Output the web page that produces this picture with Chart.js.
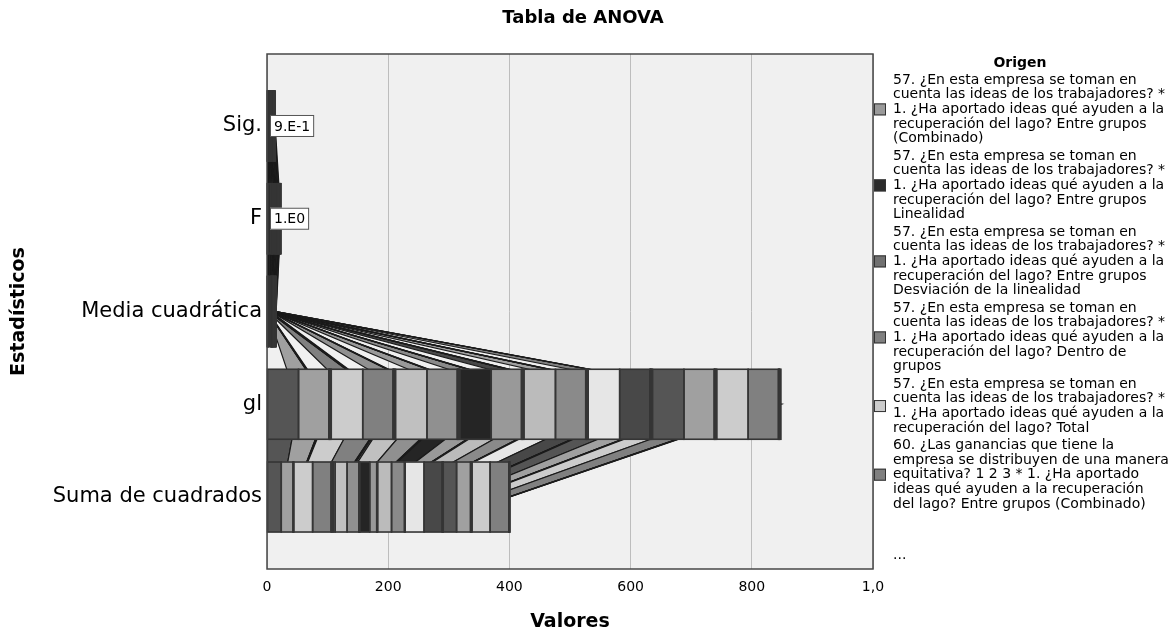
<!DOCTYPE html>
<html>
<head>
<meta charset="utf-8">
<script src="https://cdn.jsdelivr.net/npm/chart.js@4"></script>
<style>
  html, body { margin: 0; padding: 0; background: #fff; }
</style>
</head>
<body>
<canvas id="chart" width="1174" height="637"></canvas>
<script>
// statistics shown on the vertical axis (top to bottom)
const categories = ['Sig.', 'F', 'Media cuadrática', 'gl', 'Suma de cuadrados'];
const barLabels = ['9.E-1', '1.E0', '', '', ''];
const xTickValues = [0, 200, 400, 600, 800, 1000];
const xTickLabels = ['0', '200', '400', '600', '800', '1,0'];

// one entry per "Origen" row, in legend order:
// for each of 8 crossings: Combinado, Linealidad, Desviación, Dentro de grupos, Total
const sigValues = [
  0.92, 0.78, 0.85, null, null,
  0.41, 0.63, 0.27, null, null,
  0.55, 0.88, 0.32, null, null,
  0.71, 0.49, 0.66, null, null,
  0.38, 0.95, 0.21, null, null,
  0.84, 0.57, 0.73, null, null,
  0.12, 0.06, 0.44, null, null,
  0.67, 0.52, 0.59, null, null
];
const fValues = [
  1.02, 0.08, 1.49, null, null,
  1.53, 0.23, 1.35, null, null,
  0.62, 0.02, 1.14, null, null,
  0.47, 0.48, 1.46, null, null,
  1.06, 0.00, 2.27, null, null,
  1.12, 0.33, 0.31, null, null,
  2.21, 3.68, 0.60, null, null,
  0.59, 0.42, 0.68, null, null
];
const mediaCuadratica = [
  0.45, 0.04, 0.66, 0.44, null,
  0.62, 0.15, 0.90, 0.66, null,
  0.38, 0.01, 0.70, 0.61, null,
  0.21, 0.22, 0.21, 0.45, null,
  0.33, 0.00, 0.50, 0.31, null,
  0.17, 0.20, 0.19, 0.61, null,
  1.33, 2.21, 0.36, 0.60, null,
  0.35, 0.25, 0.40, 0.59, null
];
const glValues = [
  2, 1, 1, 50, 52,
  2, 1, 1, 50, 52,
  2, 1, 1, 50, 52,
  2, 1, 1, 50, 52,
  2, 1, 1, 50, 52,
  2, 1, 1, 50, 52,
  2, 1, 1, 50, 52,
  2, 1, 1, 50, 52
];
const sumaCuadrados = [
  0.9, 0.3, 0.6, 31.0, 29.9,
  1.2, 0.5, 0.7, 23.1, 22.0,
  0.8, 0.3, 0.5, 30.0, 31.4,
  0.4, 0.2, 0.2, 21.5, 23.0,
  0.7, 0.2, 0.5, 11.6, 16.5,
  0.5, 0.2, 0.3, 19.8, 19.8,
  3.3, 2.2, 1.1, 30.5, 31.4,
  0.3, 0.1, 0.2, 19.8, 23.5
];

const grays = [
  '#9a9a9a', '#2b2b2b', '#707070', '#808080', '#cccccc',
  '#7f7f7f', '#c8c8c8', '#5a5a5a', '#a0a0a0', '#555555',
  '#b4b4b4', '#3c3c3c', '#d8d8d8', '#484848', '#e6e6e6',
  '#6e6e6e', '#a8a8a8', '#333333', '#8a8a8a', '#bbbbbb',
  '#dcdcdc', '#4e4e4e', '#b0b0b0', '#999999', '#252525',
  '#787878', '#e0e0e0', '#404040', '#909090', '#c0c0c0'
];

const legendLabels = [
  ['57. ¿En esta empresa se toman en', 'cuenta las ideas de los trabajadores? *', '1. ¿Ha aportado ideas qué ayuden a la', 'recuperación del lago? Entre grupos', '(Combinado)'],
  ['57. ¿En esta empresa se toman en', 'cuenta las ideas de los trabajadores? *', '1. ¿Ha aportado ideas qué ayuden a la', 'recuperación del lago? Entre grupos', 'Linealidad'],
  ['57. ¿En esta empresa se toman en', 'cuenta las ideas de los trabajadores? *', '1. ¿Ha aportado ideas qué ayuden a la', 'recuperación del lago? Entre grupos', 'Desviación de la linealidad'],
  ['57. ¿En esta empresa se toman en', 'cuenta las ideas de los trabajadores? *', '1. ¿Ha aportado ideas qué ayuden a la', 'recuperación del lago? Dentro de', 'grupos'],
  ['57. ¿En esta empresa se toman en', 'cuenta las ideas de los trabajadores? *', '1. ¿Ha aportado ideas qué ayuden a la', 'recuperación del lago? Total'],
  ['60. ¿Las ganancias que tiene la', 'empresa se distribuyen de una manera', 'equitativa? 1 2 3 * 1. ¿Ha aportado', 'ideas qué ayuden a la recuperación', 'del lago? Entre grupos (Combinado)']
];

const FONT = '"DejaVu Sans", "Noto Sans", sans-serif';

// SPSS stacks the first legend entry on the far right, so build in reverse
const datasets = [];
for (let i = glValues.length - 1; i >= 0; i--) {
  datasets.push({
    label: 'Origen ' + (i + 1),
    data: [sigValues[i], fValues[i], mediaCuadratica[i], glValues[i], sumaCuadrados[i]],
    backgroundColor: grays[i % grays.length],
    borderWidth: 0,
    barThickness: 70,
    stack: 'origen'
  });
}

function visibleBars(chart, cb) {
  chart.data.datasets.forEach((ds, d) => {
    const meta = chart.getDatasetMeta(d);
    meta.data.forEach((el, c) => {
      if (ds.data[c] == null) return;
      cb(ds, el, c, meta);
    });
  });
}

// filled bands joining each segment to the same segment of the next bar
const connectors = {
  id: 'connectors',
  beforeDatasetsDraw(chart) {
    const ctx = chart.ctx;
    const area = chart.chartArea;
    ctx.save();
    ctx.beginPath();
    ctx.rect(area.left, area.top, area.width, area.height);
    ctx.clip();
    chart.data.datasets.forEach((ds, d) => {
      const meta = chart.getDatasetMeta(d);
      for (let c = 0; c < categories.length - 1; c++) {
        if (ds.data[c] == null || ds.data[c + 1] == null) continue;
        const a = meta.data[c];
        const b = meta.data[c + 1];
        ctx.beginPath();
        ctx.moveTo(Math.min(a.x, a.base), a.y);
        ctx.lineTo(Math.max(a.x, a.base), a.y);
        ctx.lineTo(Math.max(b.x, b.base), b.y);
        ctx.lineTo(Math.min(b.x, b.base), b.y);
        ctx.closePath();
        ctx.fillStyle = ds.backgroundColor;
        ctx.fill();
        ctx.strokeStyle = '#1a1a1a';
        ctx.lineWidth = 1.2;
        ctx.stroke();
      }
    });
    ctx.restore();
  },
  // SPSS keeps a full outline on every segment, even the hair-thin ones
  afterDatasetsDraw(chart) {
    const ctx = chart.ctx;
    ctx.save();
    ctx.strokeStyle = '#353535';
    ctx.lineWidth = 1.6;
    visibleBars(chart, (ds, el) => {
      const left = Math.min(el.x, el.base);
      const w = Math.abs(el.x - el.base);
      ctx.strokeRect(left, el.y - el.height / 2, w, el.height);
    });
    ctx.restore();
  }
};

const decorations = {
  id: 'decorations',
  beforeDraw(chart) {
    const ctx = chart.ctx;
    const area = chart.chartArea;
    ctx.save();
    ctx.fillStyle = '#ffffff';
    ctx.fillRect(0, 0, chart.width, chart.height);
    ctx.fillStyle = '#f0f0f0';
    ctx.fillRect(area.left, area.top, area.width, area.height);
    ctx.restore();
  },
  afterDraw(chart) {
    const ctx = chart.ctx;
    const area = chart.chartArea;
    const xs = chart.scales.x;
    const ys = chart.scales.y;
    ctx.save();

    // plot frame
    ctx.strokeStyle = '#474747';
    ctx.lineWidth = 1.5;
    ctx.strokeRect(area.left, area.top, area.width, area.height);

    // value labels at the start of the bars
    ctx.font = '14px ' + FONT;
    ctx.textBaseline = 'middle';
    ctx.textAlign = 'left';
    barLabels.forEach((t, c) => {
      if (!t) return;
      const x0 = xs.getPixelForValue(0) + 3;
      const y0 = ys.getPixelForValue(c);
      const w = ctx.measureText(t).width + 8;
      ctx.fillStyle = '#ffffff';
      ctx.fillRect(x0, y0 - 11, w, 22);
      ctx.strokeStyle = '#555';
      ctx.lineWidth = 1;
      ctx.strokeRect(x0 + 0.5, y0 - 10.5, w - 1, 21);
      ctx.fillStyle = '#000';
      ctx.fillText(t, x0 + 4, y0 + 1);
    });

    // title
    ctx.fillStyle = '#000';
    ctx.textAlign = 'center';
    ctx.font = 'bold 18px ' + FONT;
    ctx.fillText('Tabla de ANOVA', 583, 18);

    // legend
    const lineH = 14.7;
    const gap = 2.5;
    ctx.font = 'bold 14px ' + FONT;
    ctx.fillText('Origen', 1020, 63);
    ctx.textAlign = 'left';
    ctx.font = '14px ' + FONT;
    let y = 80;
    legendLabels.forEach((lines, i) => {
      const mid = y + (lines.length - 1) * lineH / 2;
      ctx.fillStyle = grays[i];
      ctx.fillRect(874, mid - 6, 12, 12);
      ctx.strokeStyle = '#333';
      ctx.lineWidth = 1;
      ctx.strokeRect(874.5, mid - 5.5, 11, 11);
      ctx.fillStyle = '#000';
      lines.forEach((t, k) => ctx.fillText(t, 893, y + k * lineH));
      y += lines.length * lineH + gap;
    });
    ctx.fillText('...', 893, 555);
    ctx.restore();
  }
};

new Chart(document.getElementById('chart'), {
  type: 'bar',
  data: {
    labels: categories.map((c, i) => i),
    datasets: datasets
  },
  options: {
    indexAxis: 'y',
    responsive: false,
    animation: false,
    events: [],
    layout: { padding: { top: 54, right: 301, left: 0, bottom: 0 } },
    plugins: {
      legend: { display: false },
      tooltip: { enabled: false },
      title: { display: false }
    },
    scales: {
      x: {
        type: 'linear',
        min: 0,
        max: 1000,
        stacked: true,
        afterBuildTicks: (scale) => { scale.ticks = xTickValues.map(v => ({ value: v })); },
        afterFit: (scale) => { scale.height = 68; },
        grid: { color: '#bdbdbd', lineWidth: 1, drawTicks: false },
        border: { display: false },
        ticks: {
          callback: (v, i) => xTickLabels[i],
          font: { family: FONT, size: 14 },
          color: '#000',
          padding: 10,
          maxRotation: 0
        },
        title: {
          display: true,
          text: 'Valores',
          font: { family: FONT, size: 19, weight: 'bold' },
          color: '#000',
          padding: { top: 4, bottom: 4 }
        }
      },
      y: {
        type: 'linear',
        reverse: true,
        offset: false,
        min: -0.776,
        max: 4.776,
        afterBuildTicks: (scale) => { scale.ticks = categories.map((c, i) => ({ value: i })); },
        afterFit: (scale) => { scale.width = 267; },
        grid: { display: false, drawTicks: false, offset: false },
        border: { display: false },
        ticks: {
          callback: (v) => categories[v],
          font: { family: FONT, size: 21 },
          color: '#000',
          padding: 5,
          autoSkip: false
        },
        title: {
          display: true,
          text: 'Estadísticos',
          font: { family: FONT, size: 19, weight: 'bold' },
          color: '#000',
          padding: { top: 8, bottom: 4 }
        }
      }
    }
  },
  plugins: [connectors, decorations]
});
</script>
</body>
</html>
